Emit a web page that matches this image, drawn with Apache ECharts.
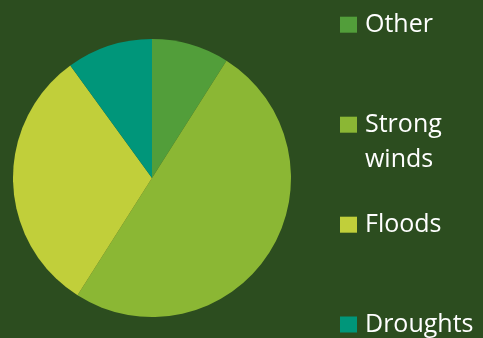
<!DOCTYPE html>
<html>
<head>
<meta charset="utf-8">
<script src="https://cdn.jsdelivr.net/npm/echarts@6/dist/echarts.min.js"></script>
<style>
  html, body { margin: 0; padding: 0; background: #2c4d1f; }
  #chart { width: 483px; height: 338px; }
</style>
</head>
<body>
<div id="chart"></div>
<script>
// Share of events by hazard type
const categories = ['Other', 'Strong winds', 'Floods', 'Droughts'];
const values = [9, 50, 31, 10];
const colors = ['#529e3a', '#8bb734', '#c1cf3a', '#00967a'];

const chart = echarts.init(document.getElementById('chart'), null, { renderer: 'canvas' });

const fontFamily = '"Open Sans", Lato, sans-serif';
const legendLeft = 340;
const lineH = 30;
const wrapLineH = 35;
// vertical centre of each legend swatch
const swatchCentres = [24.7, 124.7, 224.7, 324.5];

function makeLegend(name, i) {
  const twoLine = name === 'Strong winds';
  // a blank first line keeps the swatch level with "Strong"
  const top = twoLine ? swatchCentres[i] - wrapLineH * 1.5 : swatchCentres[i] - lineH / 2;
  const lh = twoLine ? wrapLineH : lineH;
  const text = {
    color: '#ffffff',
    fontFamily: fontFamily,
    fontSize: 25,
    lineHeight: lh
  };
  return {
    data: [name],
    left: legendLeft,
    top: top,
    orient: 'vertical',
    padding: 0,
    icon: 'rect',
    itemWidth: 17,
    itemHeight: 16,
    itemGap: 0,
    selectedMode: false,
    formatter: twoLine ? '{s| }\n{s|}{t|Strong}\n{s|}{t|winds}' : '{s|}{t|' + name + '}',
    textStyle: Object.assign({}, text, {
      rich: {
        s: { width: 3, lineHeight: lh },
        t: Object.assign({}, text)
      }
    })
  };
}

chart.setOption({
  backgroundColor: '#2c4d1f',
  animation: false,
  color: colors,
  legend: categories.map(makeLegend),
  series: [{
    type: 'pie',
    center: [152, 178],
    radius: 139,
    startAngle: 90,
    clockwise: true,
    label: { show: false },
    labelLine: { show: false },
    itemStyle: { borderWidth: 0 },
    emphasis: { disabled: true },
    data: categories.map((name, i) => ({ name: name, value: values[i] }))
  }]
});
</script>
</body>
</html>
